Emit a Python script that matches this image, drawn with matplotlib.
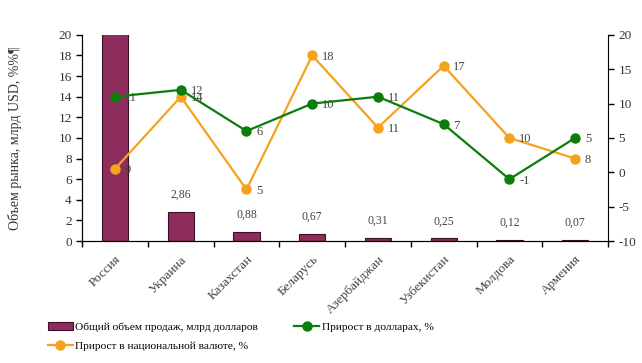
import matplotlib.pyplot as plt
import numpy as np

plt.rcParams['font.family'] = ['Liberation Serif', 'DejaVu Serif']
plt.rcParams['axes.unicode_minus'] = False

# Data
countries = ['Россия', 'Украина', 'Казахстан', 'Беларусь', 'Азербайджан',
             'Узбекистан', 'Молдова', 'Армения']
sales = [25.0, 2.86, 0.88, 0.67, 0.31, 0.25, 0.12, 0.07]
sales_labels = ['', '2,86', '0,88', '0,67', '0,31', '0,25', '0,12', '0,07']
growth_usd = [11, 12, 6, 10, 11, 7, -1, 5]
growth_usd_labels = ['11', '12', '6', '10', '11', '7', '-1', '5']
growth_nat = [0.5, 11, -2.5, 17, 6.5, 15.5, 5, 2]
growth_nat_labels = ['9', '14', '5', '18', '11', '17', '10', '8']

bar_color = '#8e2c5e'
green = '#0b7d0b'
orange = '#f5a21e'
txt = '#333333'

fig = plt.figure(figsize=(6.42, 3.63), dpi=100)
ax = fig.add_axes([0.128, 0.336, 0.819, 0.568])
ax2 = ax.twinx()

x = np.arange(len(countries))
bars = ax.bar(x, sales, width=0.4, color=bar_color, edgecolor='#3a1028',
              linewidth=0.8, label='Общий объем продаж, млрд долларов', zorder=2)
for xi, v, lab in zip(x, sales, sales_labels):
    if lab:
        ax.annotate(lab, (xi, v), xytext=(0, 8), textcoords='offset points',
                    ha='center', va='bottom', fontsize=8.5, color='#444444')

l_nat, = ax2.plot(x, growth_nat, color=orange, lw=1.6, marker='o', ms=6.5,
                  label='Прирост в национальной валюте, %', zorder=3)
l_usd, = ax2.plot(x, growth_usd, color=green, lw=1.6, marker='o', ms=6.5,
                  label='Прирост в долларах, %', zorder=4)
for xi, v, lab in zip(x, growth_usd, growth_usd_labels):
    ax2.annotate(lab, (xi, v), xytext=(7, -1), textcoords='offset points',
                 ha='left', va='center', fontsize=9, color='#444444')
for xi, v, lab in zip(x, growth_nat, growth_nat_labels):
    ax2.annotate(lab, (xi, v), xytext=(7, -1), textcoords='offset points',
                 ha='left', va='center', fontsize=9, color='#444444')

ax.set_xlim(-0.5, len(countries) - 0.5)
ax.set_ylim(0, 20)
ax.set_yticks(np.arange(0, 21, 2))
ax2.set_ylim(-10, 20)
ax2.set_yticks(np.arange(-10, 21, 5))

ax.set_xticks(x)
ax.set_xticklabels(countries, rotation=45, ha='right', va='top',
                   rotation_mode='anchor', fontsize=9.5, color='#444444')
ax.set_xticks(np.arange(-0.5, len(countries)), minor=True)
ax.tick_params(axis='x', which='major', length=0, pad=9)
ax.tick_params(axis='x', which='minor', length=4, width=1)
ax.tick_params(axis='y', length=4, width=1, labelsize=9.5, colors='black',
               labelcolor=txt)
ax2.tick_params(axis='y', length=4, width=1, labelsize=9.5, labelcolor=txt)

for a in (ax, ax2):
    a.spines['top'].set_visible(False)
ax.spines['right'].set_visible(False)

ax.set_ylabel('Объем рынка, млрд USD, %%¶', fontsize=10, color=txt, labelpad=26)

fig.legend([bars, l_nat, l_usd],
           [bars.get_label(), l_nat.get_label(), l_usd.get_label()],
           ncol=2, loc='upper left', bbox_to_anchor=(0.067, 0.125),
           frameon=False, fontsize=8.2, handlelength=2.2, handletextpad=0.2,
           columnspacing=3.2, labelspacing=0.75, borderaxespad=0)

fig.savefig('out.png', dpi=100)
